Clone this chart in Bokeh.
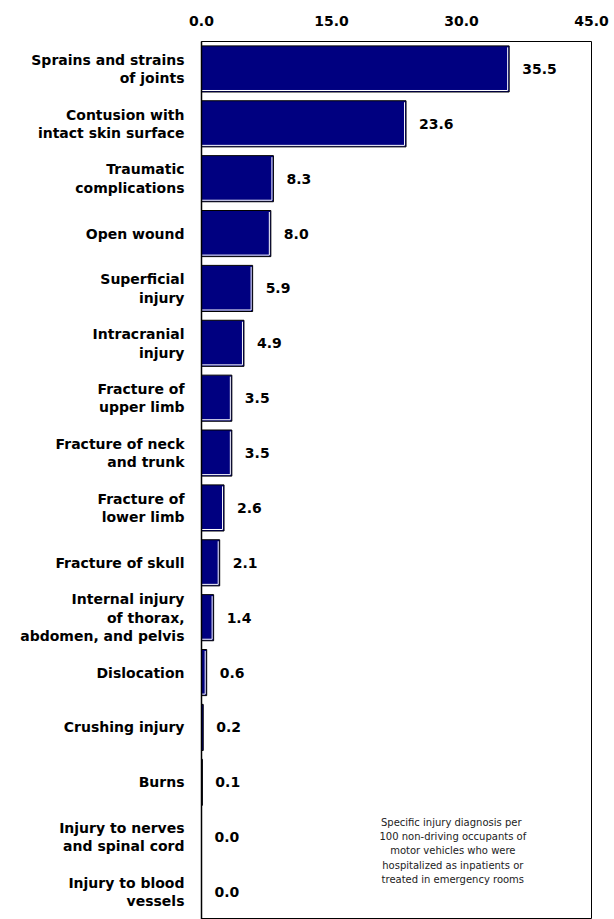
from bokeh.plotting import figure
from bokeh.models import ColumnDataSource, Label, FixedTicker, NumeralTickFormatter, Range1d, LinearAxis
from bokeh.embed import file_html
from bokeh.resources import INLINE

categories = [
    "Sprains and strains\nof joints",
    "Contusion with\nintact skin surface",
    "Traumatic\ncomplications",
    "Open wound",
    "Superficial\ninjury",
    "Intracranial\ninjury",
    "Fracture of\nupper limb",
    "Fracture of neck\nand trunk",
    "Fracture of\nlower limb",
    "Fracture of skull",
    "Internal injury\nof thorax,\nabdomen, and pelvis",
    "Dislocation",
    "Crushing injury",
    "Burns",
    "Injury to nerves\nand spinal cord",
    "Injury to blood\nvessels",
]
values = [35.5, 23.6, 8.3, 8.0, 5.9, 4.9, 3.5, 3.5, 2.6, 2.1, 1.4, 0.6, 0.2, 0.1, 0.0, 0.0]
x_ticks = [0, 15, 30, 45]
note = ("Specific  injury diagnosis per\n100 non-driving occupants of\nmotor vehicles who were\n"
        "hospitalized as inpatients or\ntreated in emergency rooms")

W, H = 614, 919
left_b, right_b, top_b, bottom_b = 201, 23, 41, 0
xmax = 45.0
n = len(values)
bar_h = 0.84
FONT = "DejaVu Sans"
FS = "14px"

pos = list(range(n))
labels_txt = [f"{v:.1f}" for v in values]

src = ColumnDataSource(dict(y=pos, v=values, lab=labels_txt, zero=[0] * n))

p = figure(width=W, height=H, output_backend="svg", toolbar_location=None,
           x_range=Range1d(0, xmax), y_range=Range1d(n - 0.5, -0.5),
           x_axis_location="above", y_axis_location=None,
           min_border_left=left_b, min_border_right=right_b,
           min_border_top=top_b, min_border_bottom=bottom_b)
p.grid.visible = False
p.outline_line_color = "black"
p.outline_line_width = 1
p.background_fill_color = "white"
p.border_fill_color = "white"

ax = p.xaxis[0]
ax.ticker = FixedTicker(ticks=x_ticks)
ax.formatter = NumeralTickFormatter(format="0.0")
ax.axis_line_color = None
ax.major_tick_line_color = None
ax.minor_tick_line_color = None
ax.major_tick_out = 0
ax.major_tick_in = 0
ax.major_label_standoff = 16
ax.major_label_text_font = FONT
ax.major_label_text_font_style = "bold"
ax.major_label_text_font_size = FS
ax.major_label_text_color = "black"

# category axis on the left
yax = LinearAxis(ticker=FixedTicker(ticks=pos),
                 major_label_overrides={i: c for i, c in zip(pos, categories)})
yax.axis_line_color = "black"
yax.axis_line_width = 1.5
yax.major_tick_line_color = None
yax.minor_tick_line_color = None
yax.major_tick_out = 0
yax.major_tick_in = 0
yax.major_label_standoff = 17
yax.major_label_text_font = FONT
yax.major_label_text_font_style = "bold"
yax.major_label_text_font_size = FS
yax.major_label_text_color = "black"
yax.major_label_text_align = "right"
yax.major_label_text_line_height = 1.15
p.add_layout(yax, "left")

# bars
p.hbar(y="y", left="zero", right="v", height=bar_h, source=src,
       fill_color="#000080", line_color="black", line_width=1)

# bevel highlight (white inner line at right and bottom)
px_x = xmax / (W - left_b - right_b)
px_y = (n) / (H - top_b - bottom_b)
hx0, hx1, hy0, vx, vy0, vy1 = [], [], [], [], [], []
for i, v in enumerate(values):
    if v / px_x > 4:
        bottom = i + bar_h / 2 - 1.5 * px_y
        top = i - bar_h / 2 + 1.5 * px_y
        right = v - 1.5 * px_x
        hx0.append(0.0); hx1.append(right); hy0.append(bottom)
        vx.append(right); vy0.append(top); vy1.append(bottom)
p.segment(x0=hx0, y0=hy0, x1=hx1, y1=hy0, line_color="white", line_width=1)
p.segment(x0=vx, y0=vy0, x1=vx, y1=vy1, line_color="white", line_width=1)

# value labels
p.text(x="v", y="y", text="lab", source=src, x_offset=13,
       text_align="left", text_baseline="middle",
       text_font={"value": FONT}, text_font_style="bold",
       text_font_size=FS, text_color="black")

# note
p.add_layout(Label(x=29.0, y=14.25, text=note, text_align="center", text_baseline="middle",
                   text_font=FONT, text_font_size="10px", text_color="#222222",
                   text_line_height=1.3))

open("out.html", "w").write(file_html(p, INLINE))
